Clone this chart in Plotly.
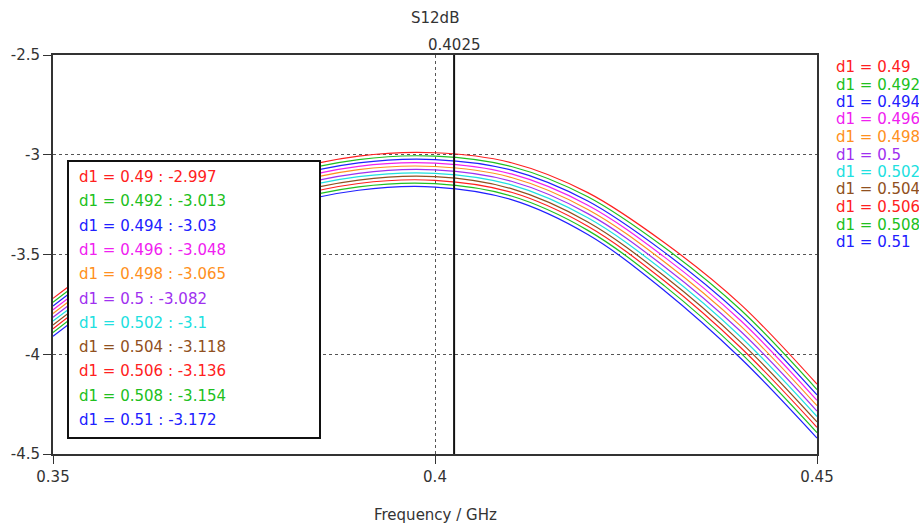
import plotly.graph_objects as go

freq = [0.35, 0.36, 0.37, 0.38, 0.39, 0.40, 0.41, 0.42, 0.43, 0.44, 0.45]
d1_values = ["0.49", "0.492", "0.494", "0.496", "0.498", "0.5", "0.502", "0.504", "0.506", "0.508", "0.51"]
marker_freq = 0.4025
marker_values = ["-2.997", "-3.013", "-3.03", "-3.048", "-3.065", "-3.082", "-3.1", "-3.118", "-3.136", "-3.154", "-3.172"]

s_049 = [-3.720, -3.445, -3.235, -3.088, -3.007, -2.990, -3.040, -3.190, -3.440, -3.750, -4.150]
s_0492 = [-3.739, -3.464, -3.253, -3.105, -3.024, -3.007, -3.059, -3.211, -3.464, -3.777, -4.177]
s_0494 = [-3.758, -3.482, -3.270, -3.122, -3.041, -3.024, -3.077, -3.232, -3.488, -3.804, -4.204]
s_0496 = [-3.777, -3.501, -3.288, -3.140, -3.058, -3.042, -3.096, -3.253, -3.512, -3.831, -4.231]
s_0498 = [-3.796, -3.519, -3.305, -3.157, -3.075, -3.059, -3.114, -3.274, -3.536, -3.858, -4.258]
s_05 = [-3.815, -3.538, -3.323, -3.174, -3.093, -3.076, -3.133, -3.295, -3.560, -3.885, -4.285]
s_0502 = [-3.834, -3.556, -3.340, -3.191, -3.110, -3.093, -3.151, -3.316, -3.584, -3.912, -4.312]
s_0504 = [-3.853, -3.575, -3.358, -3.208, -3.127, -3.110, -3.170, -3.337, -3.608, -3.939, -4.339]
s_0506 = [-3.872, -3.593, -3.375, -3.226, -3.144, -3.128, -3.188, -3.358, -3.632, -3.966, -4.366]
s_0508 = [-3.891, -3.612, -3.393, -3.243, -3.161, -3.145, -3.207, -3.379, -3.656, -3.993, -4.393]
s_051 = [-3.910, -3.630, -3.410, -3.260, -3.178, -3.162, -3.225, -3.400, -3.680, -4.020, -4.420]

series = [s_049, s_0492, s_0494, s_0496, s_0498, s_05, s_0502, s_0504, s_0506, s_0508, s_051]
colors = ["#ff2020", "#20c020", "#2020ff", "#f020f0", "#ff9020",
          "#a030f0", "#20e0e0", "#905020", "#ff2020", "#20c020", "#2020ff"]

FONT = "DejaVu Sans"
FS = 15
fig = go.Figure()
for d, ys, c in zip(d1_values, series, colors):
    fig.add_trace(go.Scatter(x=freq, y=ys, mode="lines", name="d1 = " + d,
                             line=dict(color=c, width=1.2, shape="spline"),
                             showlegend=False))

# marker line
fig.add_shape(type="line", xref="x", yref="paper", x0=marker_freq, x1=marker_freq,
              y0=0, y1=1, line=dict(color="#111111", width=2), layer="above")

# readout box
fig.add_shape(type="rect", xref="paper", yref="paper",
              x0=(68 - 53) / 764, x1=(320 - 53) / 764,
              y0=(454 - 438) / 399, y1=(454 - 161) / 399,
              fillcolor="white", line=dict(color="#111111", width=2), layer="above")

annotations = []
for i, (d, v, c) in enumerate(zip(d1_values, marker_values, colors)):
    ypix = 177 + i * 24.3
    annotations.append(dict(xref="paper", yref="paper", x=(77 - 53) / 764,
                            y=(454 - ypix) / 399, xanchor="left", yanchor="middle",
                            text="d1 = %s : %s" % (d, v), showarrow=False,
                            font=dict(family=FONT, size=FS, color=c)))
    ypix2 = 67 + i * 17.5
    annotations.append(dict(xref="paper", yref="paper", x=(834 - 53) / 764,
                            y=(454 - ypix2) / 399, xanchor="left", yanchor="middle",
                            text="d1 = %s" % d, showarrow=False,
                            font=dict(family=FONT, size=FS, color=c)))

annotations.append(dict(xref="paper", yref="paper", x=(435 - 53) / 764, y=(454 - 18) / 399,
                        text="S12dB", showarrow=False, xanchor="center", yanchor="middle",
                        font=dict(family=FONT, size=FS, color="#333333")))
annotations.append(dict(xref="x", yref="paper", x=marker_freq, y=(454 - 45) / 399,
                        text=str(marker_freq), showarrow=False, xanchor="center", yanchor="middle",
                        font=dict(family=FONT, size=FS, color="#333333")))
annotations.append(dict(xref="paper", yref="paper", x=(435 - 53) / 764, y=(454 - 515) / 399,
                        text="Frequency / GHz", showarrow=False, xanchor="center", yanchor="middle",
                        font=dict(family=FONT, size=FS, color="#333333")))

fig.update_layout(
    width=919, height=527,
    margin=dict(l=53, r=102, t=55, b=73),
    paper_bgcolor="white", plot_bgcolor="white",
    annotations=annotations,
    xaxis=dict(range=[0.35, 0.45], tickvals=[0.35, 0.4, 0.45], ticktext=["0.35", "0.4", "0.45"],
               showgrid=True, gridcolor="#555555", griddash="3px,3px", gridwidth=1,
               zeroline=False, showline=True, linecolor="#333333", linewidth=2, mirror=True,
               ticks="outside", ticklen=8, tickcolor="#333333",
               tickfont=dict(family=FONT, size=FS, color="#333333")),
    yaxis=dict(range=[-4.5, -2.5], tickvals=[-4.5, -4, -3.5, -3, -2.5],
               ticktext=["-4.5", "-4", "-3.5", "-3", "-2.5"],
               showgrid=True, gridcolor="#555555", griddash="3px,3px", gridwidth=1,
               zeroline=False, showline=True, linecolor="#333333", linewidth=2, mirror=True,
               ticks="outside", ticklen=8, tickcolor="#333333",
               tickfont=dict(family=FONT, size=FS, color="#333333")),
)

fig.write_html("out.html")
